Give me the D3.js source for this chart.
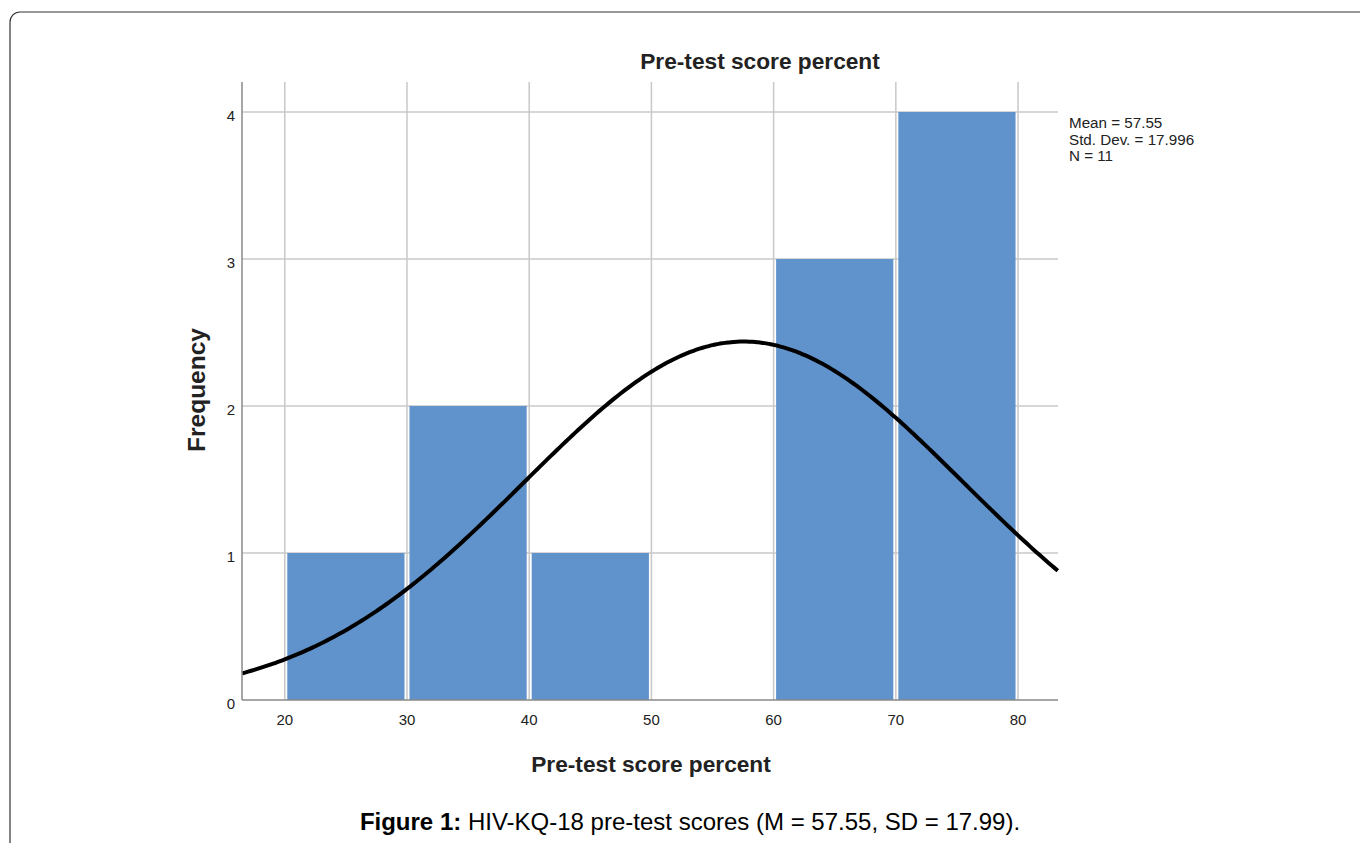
<!DOCTYPE html>
<html><head><meta charset="utf-8">
<script src="https://cdn.jsdelivr.net/npm/d3@7"></script>
<style>body{margin:0;background:#fff;}svg{display:block;font-family:"Liberation Sans",Arial,sans-serif;}</style>
</head><body>
<svg id="c" width="1360" height="843"></svg>
<script>
const binStarts = [20, 30, 40, 50, 60, 70];
const binWidth = 10;
const frequencies = [1, 2, 1, 0, 3, 4];
const xTicks = [20, 30, 40, 50, 60, 70, 80];
const yTicks = [0, 1, 2, 3, 4];
const stats = ["Mean = 57.55", "Std. Dev. = 17.996", "N = 11"];
const meanVal = 57.55, sdVal = 17.996, nVal = 11;

const svg = d3.select("#c");
// border
svg.append("rect").attr("x",10).attr("y",12).attr("width",1400).attr("height",900)
  .attr("rx",10).attr("fill","none").attr("stroke","#333").attr("stroke-width",1.2);

const L=242, R=1058, T=82, B=700;
const x = d3.scaleLinear().domain([16.5, 83.27]).range([L, R]);
const y = d3.scaleLinear().domain([0, 4]).range([B, 112]);

// grid
const g = svg.append("g");
xTicks.forEach(v=>g.append("line").attr("x1",x(v)).attr("x2",x(v)).attr("y1",T).attr("y2",B)
  .attr("stroke","#c8c8c8").attr("stroke-width",1.5));
yTicks.filter(v=>v>0).forEach(v=>g.append("line").attr("x1",L).attr("x2",R).attr("y1",y(v)).attr("y2",y(v))
  .attr("stroke","#c8c8c8").attr("stroke-width",1.5));

// bars
svg.append("g").selectAll("rect").data(binStarts.map((s,i)=>({s,f:frequencies[i]})).filter(d=>d.f>0))
  .join("rect")
  .attr("x",d=>x(d.s)+2.5).attr("width",d=>x(d.s+binWidth)-x(d.s)-5)
  .attr("y",d=>y(d.f)).attr("height",d=>y(0)-y(d.f))
  .attr("fill","#6093cb");

// normal curve
const pts = d3.range(16.5, 83.28, 0.25).map(v=>[v, nVal*binWidth*Math.exp(-0.5*((v-meanVal)/sdVal)**2)/(sdVal*Math.sqrt(2*Math.PI))]);
svg.append("path").datum(pts).attr("d", d3.line().x(d=>x(d[0])).y(d=>y(d[1])).curve(d3.curveBasis))
  .attr("fill","none").attr("stroke","#000").attr("stroke-width",4);

// axes
svg.append("line").attr("x1",L).attr("x2",L).attr("y1",T).attr("y2",B).attr("stroke","#888").attr("stroke-width",1.5);
svg.append("line").attr("x1",L).attr("x2",R).attr("y1",B).attr("y2",B).attr("stroke","#888").attr("stroke-width",1.5);

xTicks.forEach(v=>svg.append("text").attr("x",x(v)).attr("y",B+25).attr("text-anchor","middle")
  .attr("font-size",15).attr("fill","#222").text(v));
yTicks.forEach(v=>svg.append("text").attr("x",L-7).attr("y",y(v)+9).attr("text-anchor","end")
  .attr("font-size",15).attr("fill","#222").text(v));

// titles
svg.append("text").attr("x",760).attr("y",69).attr("text-anchor","middle").attr("font-size",22.7)
  .attr("font-weight","bold").attr("fill","#222").text("Pre-test score percent");
svg.append("text").attr("x",651).attr("y",772).attr("text-anchor","middle").attr("font-size",22.7)
  .attr("font-weight","bold").attr("fill","#222").text("Pre-test score percent");
svg.append("text").attr("transform","translate(205,390) rotate(-90)").attr("text-anchor","middle").attr("font-size",24.5)
  .attr("font-weight","bold").attr("fill","#222").text("Frequency");

// stats
stats.forEach((s,i)=>svg.append("text").attr("x",1069).attr("y",128+i*16.5).attr("font-size",15.2)
  .attr("fill","#222").text(s));

// caption
const cap = svg.append("text").attr("x",690).attr("y",830).attr("text-anchor","middle").attr("font-size",24).attr("fill","#000");
cap.append("tspan").attr("font-weight","bold").text("Figure 1:");
cap.append("tspan").text(" HIV-KQ-18 pre-test scores (M = 57.55, SD = 17.99).");
</script>
</body></html>
